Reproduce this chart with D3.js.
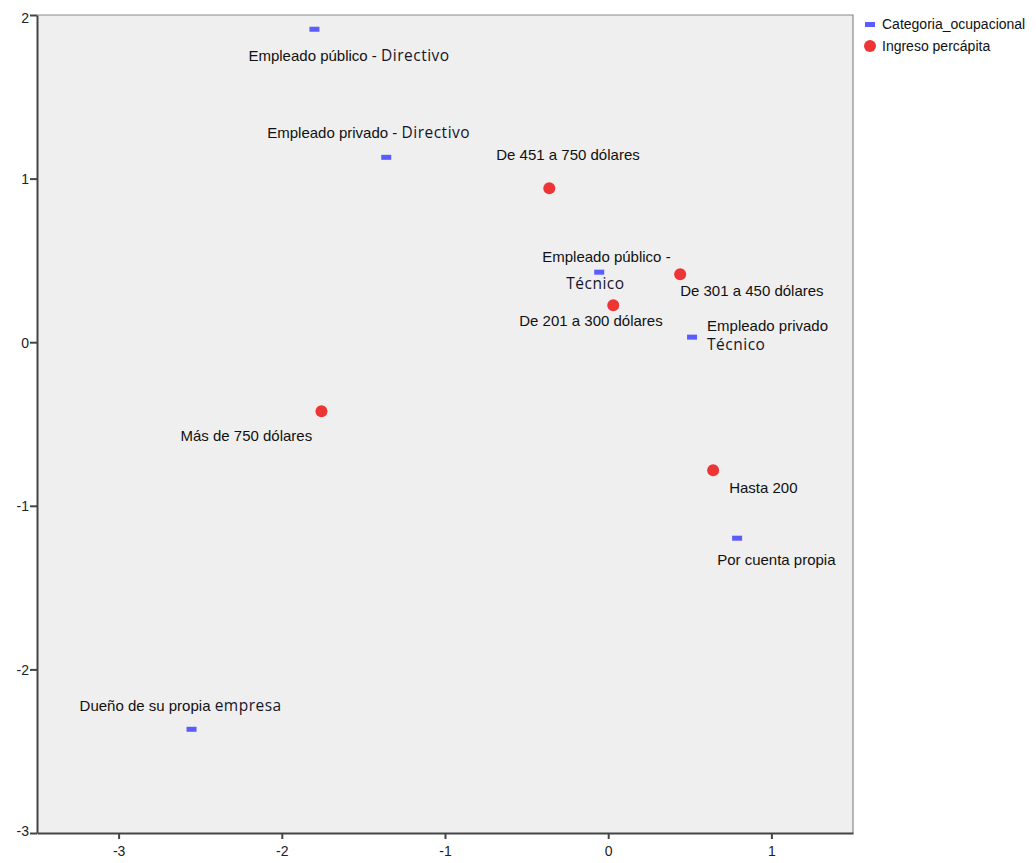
<!DOCTYPE html>
<html><head><meta charset="utf-8">
<script src="https://cdn.jsdelivr.net/npm/d3@7"></script>
<style>body{margin:0;background:#fff}</style>
</head><body>
<svg id="c" width="1036" height="863"></svg>
<script>
// Data
const catNames = ["Empleado público - Directivo","Empleado privado - Directivo","Empleado público - Técnico","Empleado privado Técnico","Por cuenta propia","Dueño de su propia empresa"];
const catX = [-1.80,-1.36,-0.055,0.514,0.79,-2.553];
const catY = [1.913,1.13,0.428,0.031,-1.198,-2.366];
const ingNames = ["De 451 a 750 dólares","De 301 a 450 dólares","De 201 a 300 dólares","Más de 750 dólares","Hasta 200"];
const ingX = [-0.361,0.441,0.031,-1.757,0.643];
const ingY = [0.941,0.416,0.226,-0.422,-0.782];
const xTicks = [-3,-2,-1,0,1];
const yTicks = [-3,-2,-1,0,1,2];
const legendLabels = ["Categoria_ocupacional","Ingreso percápita"];

// Label layout: lines of [mainText, secondaryText], offsets from point (px)
const catLabelLayout = [
  {dx:-66, dy:32, lines:[["Empleado público - ","Directivo"]], ldy:[0]},
  {dx:-119, dy:-19, lines:[["Empleado privado - ","Directivo"]], ldy:[0]},
  {dx:-57, dy:-10, lines:[["Empleado público -",""],["","Técnico"]], ldx:[0,24], ldy:[0,27]},
  {dx:15, dy:-6, lines:[["Empleado privado",""],["","Técnico"]], ldx:[0,0], ldy:[0,19]},
  {dx:-20, dy:27, lines:[["Por cuenta propia",""]], ldy:[0]},
  {dx:-112, dy:-18, lines:[["Dueño de su propia ","empresa"]], ldy:[0]}
];
const ingLabelLayout = [
  {dx:-53, dy:-28},
  {dx:0, dy:22},
  {dx:-94, dy:21},
  {dx:-141, dy:30},
  {dx:16, dy:23}
];

const svg = d3.select("#c");
const L=37, R=853, T=15, B=833;
const x = d3.scaleLinear().domain([-3.5,1.5]).range([L,R]);
const y = d3.scaleLinear().domain([-3,2]).range([B,T]);

svg.append("rect").attr("x",L).attr("y",T).attr("width",R-L).attr("height",B-T).attr("fill","#efefef");
svg.append("path").attr("d",`M${L},${T}H${R}V${B}`).attr("fill","none").attr("stroke","#8a8a8a").attr("stroke-width",1.2);

const xAxis = svg.append("g").attr("transform",`translate(0,${B})`)
  .call(d3.axisBottom(x).tickValues(xTicks).tickSize(6).tickSizeOuter(0).tickFormat(d=>String(d)));
const yAxis = svg.append("g").attr("transform",`translate(${L},0)`)
  .call(d3.axisLeft(y).tickValues(yTicks).tickSize(7).tickSizeOuter(0).tickFormat(d=>String(d)));
[xAxis,yAxis].forEach(a=>{
  a.select(".domain").attr("stroke","#444").attr("stroke-width",2);
  a.selectAll(".tick line").attr("stroke","#444").attr("stroke-width",2);
  a.selectAll(".tick text").attr("fill","#222").attr("font-family","Liberation Sans, Arial, sans-serif").attr("font-size",14);
});
xAxis.selectAll(".tick text").attr("dy","1.0em");
yAxis.selectAll(".tick text").attr("x",-8).attr("dy","0.35em");
yAxis.selectAll(".tick").filter(d=>d===2).select("text").attr("dy","0.55em");
yAxis.selectAll(".tick").filter(d=>d===-3).select("text").attr("dy","0.15em");

const blue="#5b5bff", red="#ee3535";
const mainFont="Liberation Sans, Arial, sans-serif";
const secFont="Open Sans, DejaVu Sans, sans-serif";

svg.append("g").selectAll("rect").data(catNames).join("rect")
  .attr("x",(d,i)=>x(catX[i])-5).attr("y",(d,i)=>y(catY[i])-2.5)
  .attr("width",10).attr("height",5).attr("fill",blue);
svg.append("g").selectAll("circle").data(ingNames).join("circle")
  .attr("cx",(d,i)=>x(ingX[i])).attr("cy",(d,i)=>y(ingY[i])).attr("r",6).attr("fill",red);

catNames.forEach((n,i)=>{
  const lay = catLabelLayout[i];
  const px=x(catX[i])+lay.dx, py=y(catY[i])+lay.dy;
  lay.lines.forEach((ln,j)=>{
    const t = svg.append("text").attr("x",px+(lay.ldx?lay.ldx[j]:0)).attr("y",py+lay.ldy[j])
      .attr("font-size",15).attr("fill","#111");
    if(ln[0]) t.append("tspan").attr("font-family",mainFont).text(ln[0]);
    if(ln[1]) t.append("tspan").attr("font-family",secFont).attr("font-size",15.5)
      .attr("letter-spacing",0.5).attr("fill","#15152a").text(ln[1]);
  });
});
ingNames.forEach((n,i)=>{
  const lay=ingLabelLayout[i];
  svg.append("text").attr("x",x(ingX[i])+lay.dx).attr("y",y(ingY[i])+lay.dy)
    .attr("font-family",mainFont).attr("font-size",15).attr("fill","#111").text(n);
});

const lg = svg.append("g");
lg.append("rect").attr("x",865).attr("y",22).attr("width",10).attr("height",5).attr("fill",blue);
lg.append("circle").attr("cx",870).attr("cy",46).attr("r",6).attr("fill",red);
lg.selectAll("text").data(legendLabels).join("text")
  .attr("x",882).attr("y",(d,i)=>29+i*22).attr("font-family",mainFont).attr("font-size",14).attr("fill","#111").text(d=>d);
</script>
</body></html>
